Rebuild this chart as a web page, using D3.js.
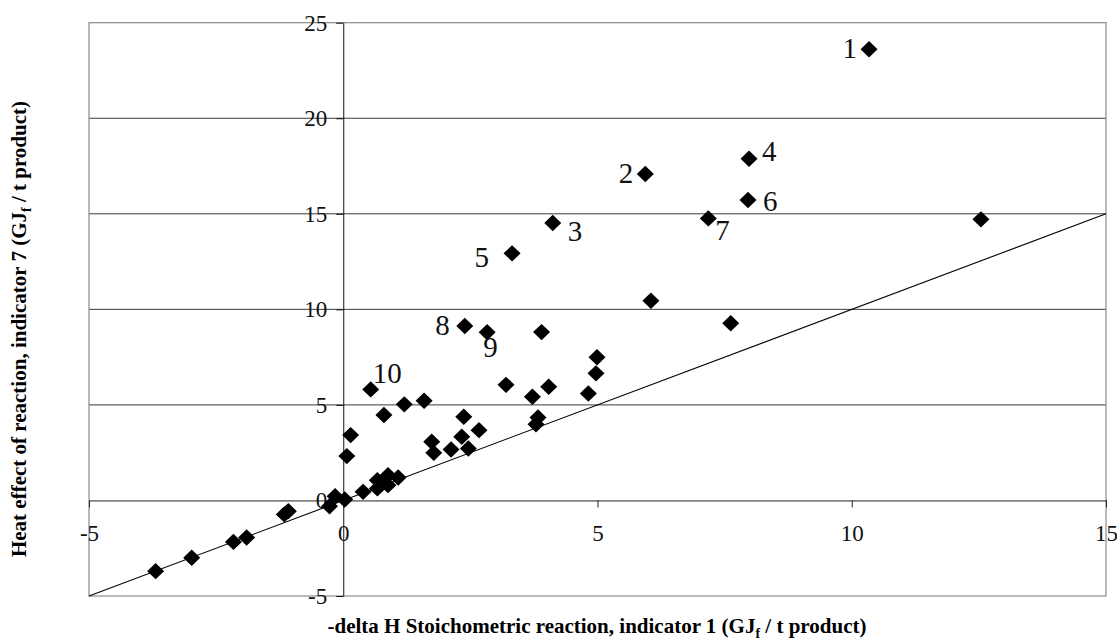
<!DOCTYPE html>
<html>
<head>
<meta charset="utf-8">
<script src="https://cdn.jsdelivr.net/npm/d3@7/dist/d3.min.js"></script>
<style>
  body { margin: 0; background: #fff; }
  svg { display: block; }
</style>
</head>
<body>
<svg id="chart" width="1117" height="644"></svg>
<script>
// Heat effect of reaction (indicator 7) against -delta H of the stoichiometric reaction (indicator 1)
const xValues = [10.34, 5.94, 4.12, 7.98, 3.32, 7.96, 7.18, 2.39, 2.83, 0.54,
  12.54, 6.05, 7.62, 3.90, 4.99, 4.97, 3.20, 3.72, 4.04, 4.82,
  3.83, 3.79, 0.80, 1.20, 1.59, 0.145, 0.07, 2.37, 2.67, 1.74,
  1.78, 2.12, 2.33, 2.46, 0.39, 0.67, 0.67, 0.88, 0.88, 1.08,
  0.03, -0.16, -0.27, -3.69, -2.98, -2.16, -1.90, -1.16, -1.08];
const yValues = [23.61, 17.08, 14.52, 17.88, 12.93, 15.72, 14.76, 9.13, 8.80, 5.81,
  14.71, 10.45, 9.27, 8.81, 7.49, 6.65, 6.05, 5.43, 5.95, 5.60,
  4.34, 3.99, 4.47, 5.03, 5.22, 3.42, 2.32, 4.38, 3.68, 3.07,
  2.49, 2.67, 3.33, 2.72, 0.45, 1.06, 0.63, 1.32, 0.80, 1.20,
  0.05, 0.22, -0.30, -3.70, -3.00, -2.17, -1.94, -0.73, -0.56];
const pointLabels = ["1", "2", "3", "4", "5", "6", "7", "8", "9", "10"];
const xTicks = [-5, 0, 5, 10, 15];
const yTicks = [-5, 0, 5, 10, 15, 20, 25];
const gridValues = [5, 10, 15, 20];
const parityLine = [-5, 15]; // y = x reference line

const xTitle = "-delta H Stoichometric reaction, indicator 1 (GJ";
const yTitle = "Heat effect of reaction, indicator 7 (GJ";
const titleTail = " / t product)";

const svg = d3.select("#chart");
const serif = "'Liberation Serif', 'Times New Roman', serif";
const plain = d => String(d); // hyphen minus, as in the printed axis

const x = d3.scaleLinear().domain([-5, 15]).range([89, 1106]);
const y = d3.scaleLinear().domain([-5, 25]).range([596, 22.7]);

// horizontal gridlines
svg.append("g").selectAll("line").data(gridValues).join("line")
  .attr("x1", x(-5)).attr("x2", x(15))
  .attr("y1", d => y(d)).attr("y2", d => y(d))
  .attr("stroke", "#3a3a3a").attr("stroke-width", 1);

// plot frame
svg.append("rect")
  .attr("x", x(-5)).attr("y", y(25))
  .attr("width", x(15) - x(-5)).attr("height", y(-5) - y(25))
  .attr("fill", "none").attr("stroke", "#8a8a8a").attr("stroke-width", 1.2);

// x axis through y = 0
const xAxis = svg.append("g")
  .attr("transform", `translate(0,${y(0)})`)
  .call(d3.axisBottom(x).tickValues(xTicks).tickSize(7).tickSizeOuter(0).tickPadding(17)
    .tickFormat(plain));
xAxis.select(".domain").attr("stroke", "#222");
xAxis.selectAll(".tick line").attr("stroke", "#222");
xAxis.selectAll("text").attr("font-family", serif).attr("font-size", 23).attr("fill", "#111");

// y axis through x = 0
const yAxis = svg.append("g")
  .attr("transform", `translate(${x(0)},0)`)
  .call(d3.axisLeft(y).tickValues(yTicks).tickSize(7).tickSizeOuter(0).tickPadding(9)
    .tickFormat(plain));
yAxis.select(".domain").attr("stroke", "#111");
yAxis.selectAll(".tick line").attr("stroke", "#111");
yAxis.selectAll("text").attr("font-family", serif).attr("font-size", 23).attr("fill", "#111");

// y = x line
svg.append("line")
  .attr("x1", x(parityLine[0])).attr("y1", y(parityLine[0]))
  .attr("x2", x(parityLine[1])).attr("y2", y(parityLine[1]))
  .attr("stroke", "#000").attr("stroke-width", 1.1);

// diamond markers
const pts = xValues.map((v, i) => ({ x: v, y: yValues[i], label: pointLabels[i] || "" }));
svg.append("g").selectAll("path").data(pts).join("path")
  .attr("transform", d => `translate(${x(d.x)},${y(d.y)})`)
  .attr("d", "M0,-8.2 L8.5,0 L0,8.2 L-8.5,0 Z")
  .attr("fill", "#000");

// number labels: offset from marker in px [dx, dy, anchor]
const labelOffset = {
  "1": [-12, 9, "end"], "2": [-12, 9, "end"], "3": [15, 18, "start"],
  "4": [13, 2, "start"], "5": [-23, 14, "end"], "6": [15, 11, "start"],
  "7": [7, 22, "start"], "8": [-15, 9, "end"], "9": [-4, 25, "start"],
  "10": [2, -6, "start"]
};
svg.append("g").selectAll("text").data(pts.filter(d => d.label)).join("text")
  .attr("x", d => x(d.x) + labelOffset[d.label][0])
  .attr("y", d => y(d.y) + labelOffset[d.label][1])
  .attr("text-anchor", d => labelOffset[d.label][2])
  .attr("font-family", serif).attr("font-size", 29).attr("fill", "#111")
  .text(d => d.label);

// axis titles
function title(sel, main) {
  sel.attr("font-family", serif).attr("font-weight", "bold").attr("font-size", 21)
    .attr("text-anchor", "middle").attr("fill", "#000");
  sel.append("tspan").text(main);
  sel.append("tspan").attr("font-size", 14).attr("dy", 5).text("f");
  sel.append("tspan").attr("dy", -5).text(titleTail);
}
svg.append("text").attr("x", 597).attr("y", 633).call(title, xTitle);
svg.append("text")
  .attr("transform", "translate(26,329) rotate(-90)")
  .call(title, yTitle);
</script>
</body>
</html>
